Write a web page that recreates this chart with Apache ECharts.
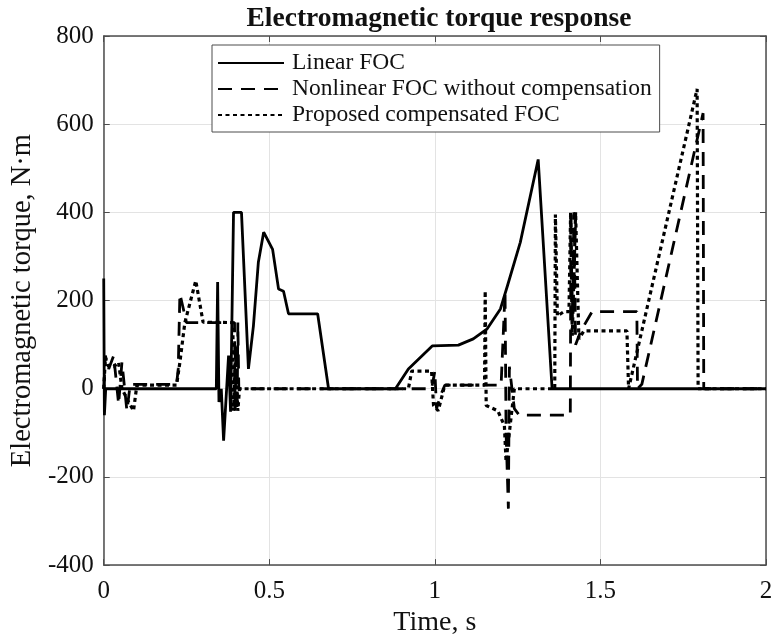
<!DOCTYPE html>
<html>
<head>
<meta charset="utf-8">
<script src="https://cdn.jsdelivr.net/npm/echarts@6/dist/echarts.min.js"></script>
<style>
  html, body { margin: 0; padding: 0; background: #fff; }
  #main { width: 776px; height: 642px; }
</style>
</head>
<body>
<div id="main"></div>
<script>
// [time s, torque N·m]
const linearFoc = [
  [0, 250], [0.002, -60], [0.006, 0], [0.34, 0], [0.344, 242], [0.348, -30],
  [0.355, 0], [0.362, -118], [0.377, 75], [0.383, -52], [0.392, 400], [0.416, 400],
  [0.437, 45], [0.452, 142], [0.467, 287], [0.483, 355], [0.51, 316], [0.528, 226],
  [0.543, 221], [0.558, 170], [0.646, 170], [0.679, 0], [0.881, 0], [0.92, 45],
  [0.992, 97], [1.071, 99], [1.116, 113], [1.158, 136], [1.198, 181], [1.219, 233],
  [1.258, 332], [1.312, 520], [1.354, 0], [2, 0]
];
const nonlinearFoc = [
  [0, 0], [0.005, 75], [0.015, 45], [0.03, 75], [0.045, -35], [0.055, 60],
  [0.07, -50], [0.08, 10], [0.22, 10], [0.225, 45], [0.23, 215], [0.25, 150],
  [0.395, 150], [0.397, -50], [0.4, 100], [0.403, -50], [0.405, 150], [0.408, 0],
  [0.99, 0], [1.0, 40], [1.005, -45], [1.02, -10], [1.03, 8], [1.2, 8],
  [1.212, 220], [1.215, -100], [1.222, -272], [1.225, 50], [1.24, -45], [1.255, -60],
  [1.409, -60], [1.411, 400], [1.415, 150], [1.42, 400], [1.425, 100], [1.44, 130],
  [1.475, 175], [1.61, 175], [1.612, 0], [1.625, 10], [1.81, 625], [1.812, 0], [2, 0]
];
const compensatedFoc = [
  [0, 0], [0.005, 70], [0.015, 50], [0.03, 50], [0.045, 60], [0.055, 0],
  [0.075, -30], [0.09, -50], [0.1, 8], [0.22, 8], [0.23, 60], [0.245, 150],
  [0.278, 245], [0.3, 151], [0.39, 150], [0.392, -50], [0.398, 80], [0.405, -50],
  [0.41, 0], [0.92, 0], [0.93, 40], [0.99, 40], [0.996, -38], [1.01, -50],
  [1.03, 8], [1.15, 8], [1.152, 222], [1.155, -38], [1.19, -50], [1.21, -84],
  [1.215, -165], [1.24, 0], [1.362, 0], [1.364, 395], [1.37, 165], [1.39, 175],
  [1.405, 175], [1.41, 400], [1.415, 120], [1.425, 400], [1.435, 113], [1.45, 131],
  [1.58, 131], [1.585, 0], [1.792, 680], [1.795, 0], [2, 0]
];
const seriesNames = ['Linear FOC', 'Nonlinear FOC without compensation', 'Proposed compensated FOC'];
const xTicks = [0, 0.5, 1, 1.5, 2];
const yTicks = [-400, -200, 0, 200, 400, 600, 800];

const font = 'Liberation Serif';
const axisColor = '#4d4d4d';

const chart = echarts.init(document.getElementById('main'));

function frameAxis(pos, isX) {
  return {
    type: 'value',
    position: pos,
    min: isX ? xTicks[0] : yTicks[0],
    max: isX ? xTicks[xTicks.length - 1] : yTicks[yTicks.length - 1],
    interval: isX ? 0.5 : 200,
    axisLine: { show: true, onZero: false, lineStyle: { color: axisColor, width: 1.5 } },
    axisTick: { show: true, inside: true, length: 6, lineStyle: { color: axisColor } },
    axisLabel: { show: false },
    splitLine: { show: false }
  };
}

chart.setOption({
  backgroundColor: '#fff',
  animation: false,
  title: {
    text: 'Electromagnetic torque response',
    left: 434, top: 0, textAlign: 'center',
    textStyle: { fontFamily: font, fontWeight: 'bold', fontSize: 27.5, color: '#111' }
  },
  grid: { left: 103, top: 36, right: 10, bottom: 75 },
  legend: {
    data: seriesNames,
    orient: 'vertical',
    left: 212, top: 45,
    backgroundColor: '#fff',
    borderColor: axisColor, borderWidth: 1,
    padding: [5, 8, 4, 5],
    itemWidth: 66, itemHeight: 10, itemGap: 0,
    itemStyle: { opacity: 0 },
    textStyle: { fontFamily: font, fontSize: 23.5, color: '#111', lineHeight: 26, padding: [0, 0, 0, 3] }
  },
  xAxis: [
    {
      type: 'value',
      min: xTicks[0], max: xTicks[xTicks.length - 1], interval: 0.5,
      name: 'Time, s', nameLocation: 'middle', nameGap: 43,
      nameTextStyle: { fontFamily: font, fontSize: 28, color: '#111' },
      axisLine: { show: true, onZero: false, lineStyle: { color: axisColor, width: 1.5 } },
      axisTick: { show: true, inside: true, length: 6, lineStyle: { color: axisColor } },
      axisLabel: { fontFamily: font, fontSize: 25, color: '#111', margin: 14 },
      splitLine: { show: true, lineStyle: { color: '#e3e3e3', width: 1 } }
    },
    frameAxis('top', true)
  ],
  yAxis: [
    {
      type: 'value',
      min: yTicks[0], max: yTicks[yTicks.length - 1], interval: 200,
      name: 'Electromagnetic torque, N·m', nameLocation: 'middle', nameGap: 63,
      nameTextStyle: { fontFamily: font, fontSize: 28.5, color: '#111' },
      axisLine: { show: true, onZero: false, lineStyle: { color: axisColor, width: 1.5 } },
      axisTick: { show: true, inside: true, length: 6, lineStyle: { color: axisColor } },
      axisLabel: { fontFamily: font, fontSize: 25, color: '#111', margin: 10 },
      splitLine: { show: true, lineStyle: { color: '#e3e3e3', width: 1 } }
    },
    frameAxis('right', false)
  ],
  series: [
    {
      name: seriesNames[0], type: 'line', data: linearFoc,
      showSymbol: false, symbol: 'none',
      lineStyle: { color: '#000', width: 2.8, type: 'solid' },
      itemStyle: { color: '#000' }
    },
    {
      name: seriesNames[1], type: 'line', data: nonlinearFoc,
      showSymbol: false, symbol: 'none',
      lineStyle: { color: '#000', width: 2.8, type: [14, 9] },
      itemStyle: { color: '#000' }
    },
    {
      name: seriesNames[2], type: 'line', data: compensatedFoc,
      showSymbol: false, symbol: 'none',
      lineStyle: { color: '#000', width: 3.2, type: [4, 3.5] },
      itemStyle: { color: '#000' }
    }
  ]
});
</script>
</body>
</html>
